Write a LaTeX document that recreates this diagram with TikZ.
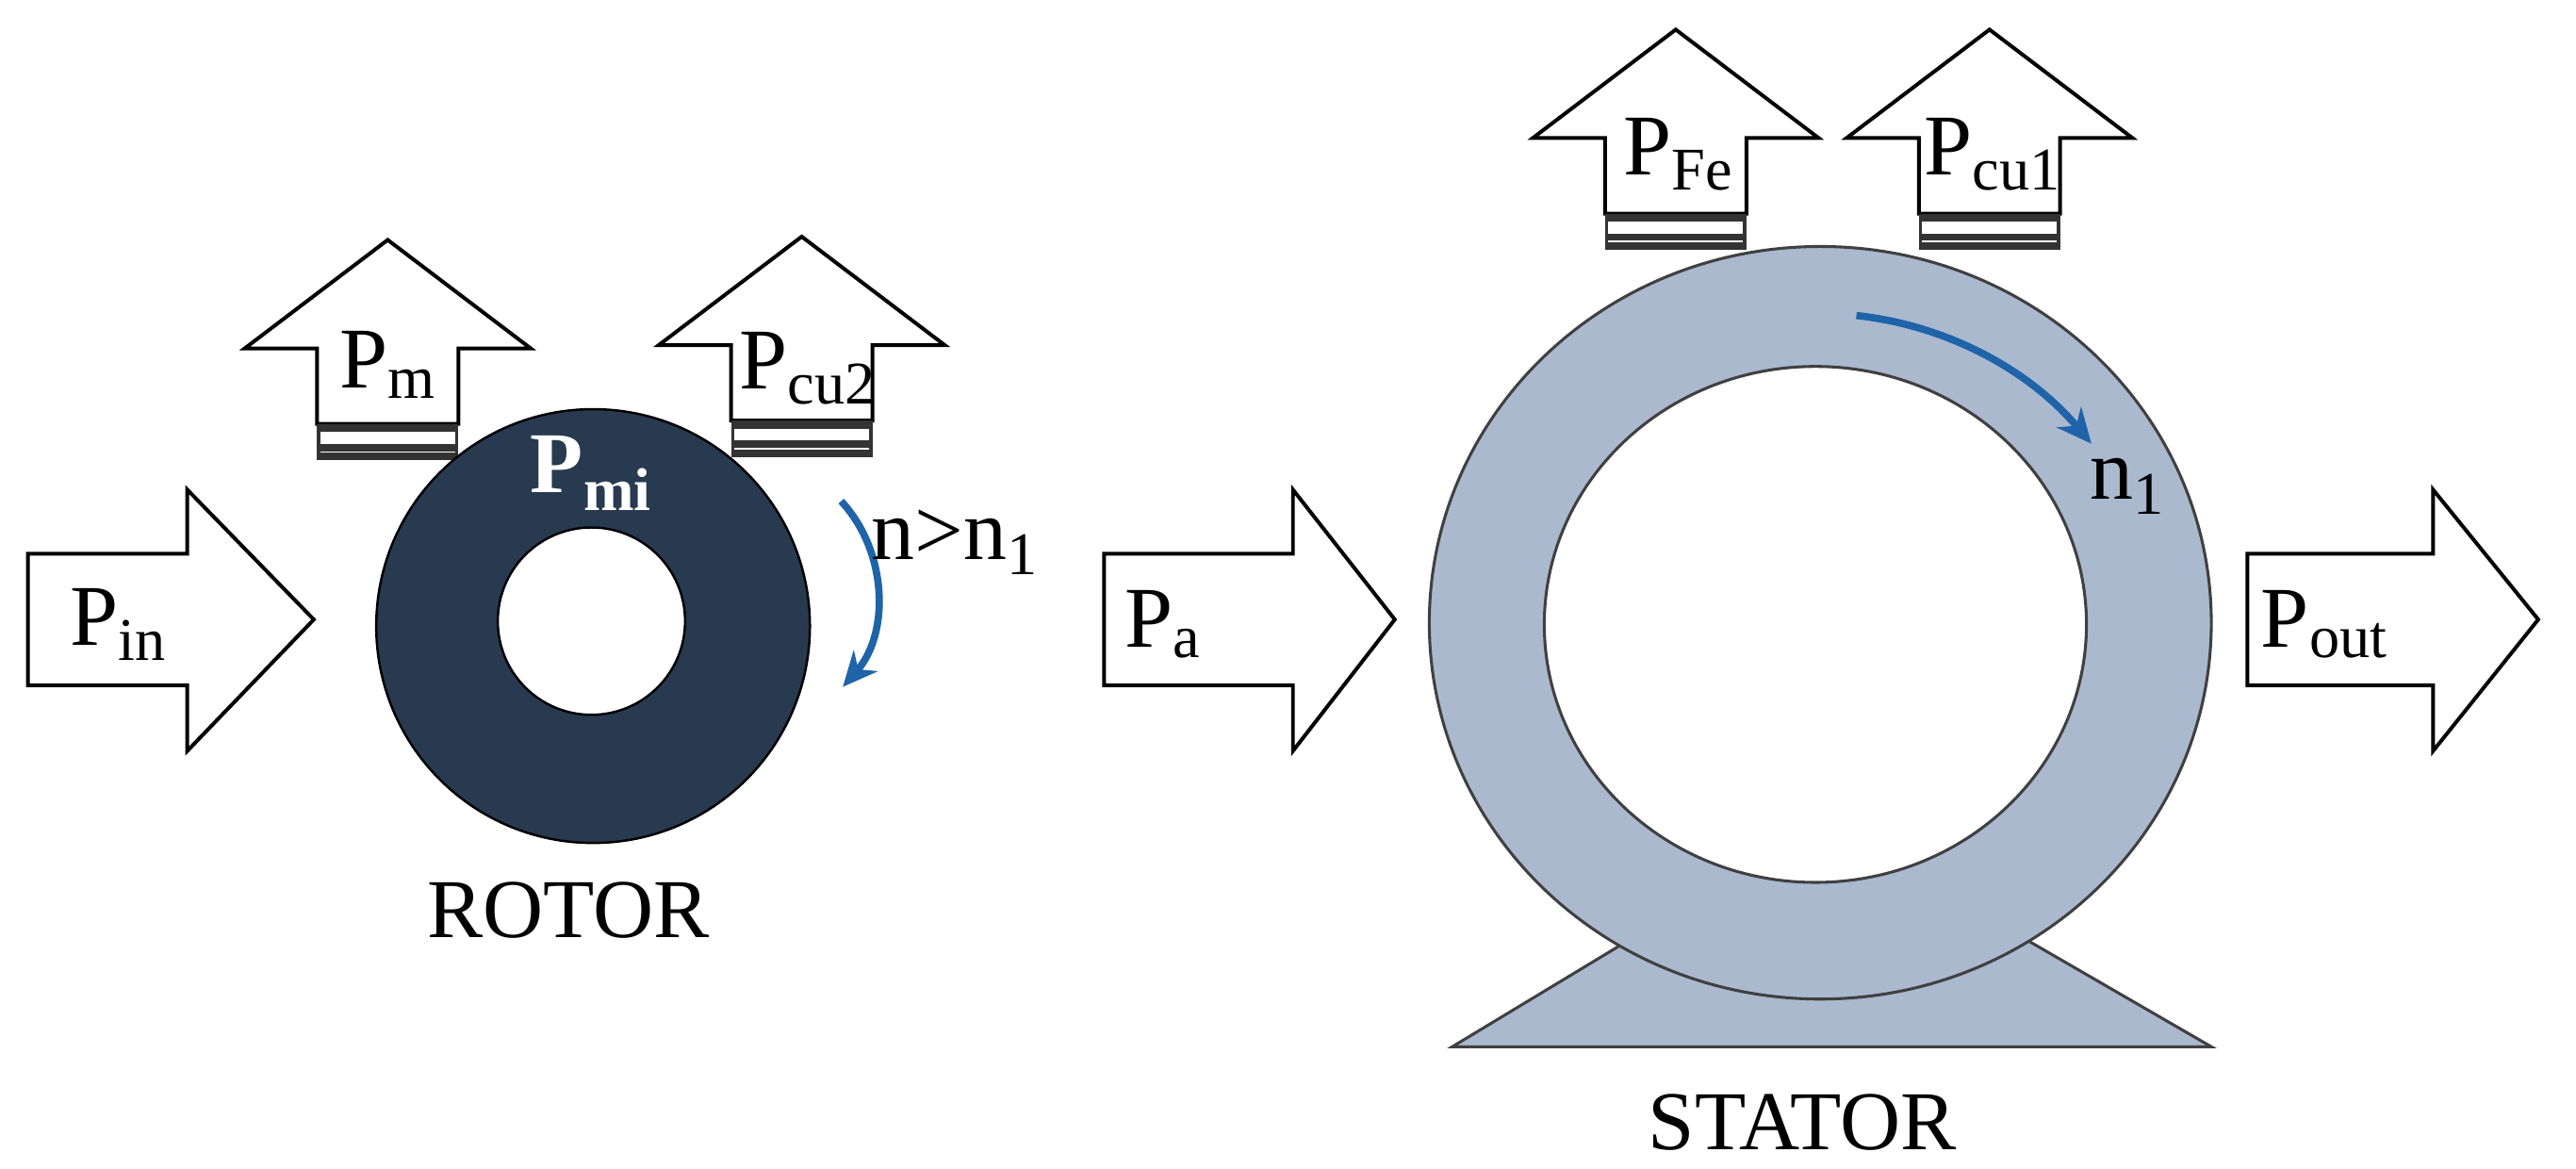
\documentclass[tikz,border=0pt]{standalone}
\usepackage{fontspec}
\setmainfont{Liberation Serif}
\usetikzlibrary{arrows.meta}
\definecolor{rotorc}{HTML}{283A50}
\definecolor{statorc}{HTML}{AAB9CE}
\definecolor{bluea}{HTML}{1F63A8}
\tikzset{
  lbl/.style={font=\fontsize{30}{30}\selectfont, inner sep=0pt},
  caplbl/.style={font=\fontsize{29}{29}\selectfont, inner sep=0pt},
  arr/.style={draw=black, line width=1.3pt, fill=white, line join=miter},
  rot/.style={draw=bluea, line width=2.5pt, -{Stealth[length=12pt,width=11pt]}},
  stat/.style={fill=statorc, draw=black!75, line width=1pt},
}
\newcommand{\uparrowshape}[2]{% cx, tipy
  \draw[arr] (#1,#2) -- (#1+87,#2+66) -- (#1+43,#2+66) -- (#1+43,#2+112) -- (#1-43,#2+112) -- (#1-43,#2+66) -- (#1-87,#2+66) -- cycle;
  \fill[black!80] (#1-43,#2+112) rectangle (#1+43,#2+134);
  \fill[white] (#1-41,#2+117) rectangle (#1+41,#2+124);
  \draw[white, line width=0.5pt] (#1-41,#2+129) -- (#1+41,#2+129);
}
\newcommand{\rightarrowshape}[3]{% x0, xhead, xtip
  \draw[arr] (#1,337) -- (#2,337) -- (#2,298) -- (#3,377) -- (#2,457) -- (#2,417) -- (#1,417) -- cycle;
}
\begin{document}
\begin{tikzpicture}[x=0.02cm,y=-0.02cm]
\useasboundingbox (0,0) rectangle (1568,711);
% input arrows
\rightarrowshape{17}{114}{191}
\node[lbl] (pin) at (72,380) {P\textsubscript{in}};
\rightarrowshape{672}{787}{849}
\node[lbl] (pa) at (708,380) {P\textsubscript{a}};
\rightarrowshape{1368}{1481}{1545}
\node[lbl] (pout) at (1415,380) {P\textsubscript{out}};
% up arrows
\uparrowshape{236}{146}
\node[lbl] (pm) at (236,222) {P\textsubscript{m}};
\uparrowshape{488}{144}
\node[lbl] (pcu2) at (492,224) {P\textsubscript{cu2}};
\uparrowshape{1020}{18}
\node[lbl] (pfe) at (1022,94) {P\textsubscript{Fe}};
\uparrowshape{1211}{18}
\node[lbl] (pcu1) at (1213,94) {P\textsubscript{cu1}};
% rotor
\fill[rotorc, even odd rule, draw=black, line width=0.8pt] (361,381) circle (132) (360,378) circle (57);
\node[lbl, text=white, font=\fontsize{30}{30}\selectfont\bfseries] (pmi) at (360,288) {P\textsubscript{mi}};
\coordinate (r1) at (512,305);
\coordinate (r2) at (513,418);
\draw[rot] (r1) .. controls (540,335) and (542,385) .. (r2);
\node[lbl, anchor=west] (nn) at (530,330) {n>n\textsubscript{1}};
\node[caplbl] (rotor) at (346,554) {ROTOR};
% stator
\path[stat] (884,637) -- (1000,567) -- (1225,567) -- (1346,637) -- cycle;
\path[stat] (1108,379) ellipse [x radius=238, y radius=229];
\path[stat, fill=white] (1105,380) ellipse [x radius=165, y radius=157];
\coordinate (s1) at (1130,192);
\coordinate (s2) at (1273,270);
\draw[rot] (s1) .. controls (1185,198) and (1235,225) .. (s2);
\node[lbl] (n1) at (1295,296) {n\textsubscript{1}};
\node[caplbl] (stator) at (1097,683) {STATOR};
\end{tikzpicture}
\end{document}
